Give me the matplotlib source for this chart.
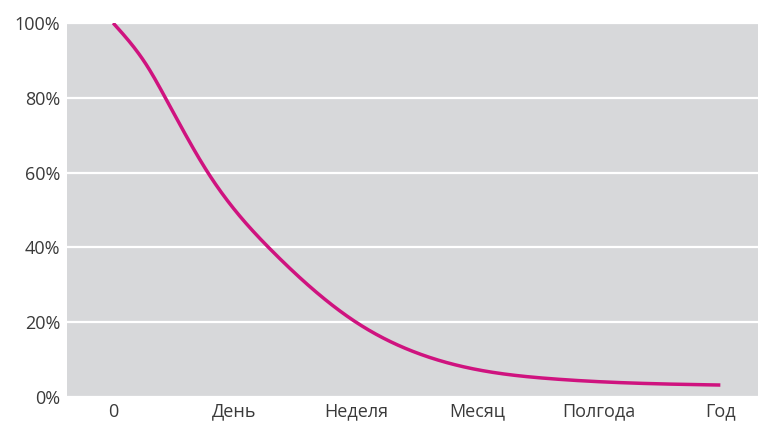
import numpy as np
import matplotlib
matplotlib.use("Agg")
import matplotlib.pyplot as plt
from matplotlib.ticker import FuncFormatter

# Retention curve: share remaining (%) over time
time_pos = [0.0, 0.28, 0.43, 0.78, 1.31, 2.0, 2.5, 3.05, 3.6, 4.3, 5.0]
share_pct = [100, 88.5, 80, 60, 39, 20, 11.8, 7.0, 4.9, 3.7, 3.2]

x_ticks = [0, 1, 2, 3, 4, 5]
x_labels = ["0", "День", "Неделя", "Месяц", "Полгода", "Год"]
y_ticks = [0, 20, 40, 60, 80, 100]


def natural_spline(x, y, n=500):
    """Natural cubic spline through the given points, sampled for drawing."""
    x = np.asarray(x, float)
    y = np.asarray(y, float)
    k = len(x)
    h = np.diff(x)
    A = np.zeros((k, k))
    r = np.zeros(k)
    A[0, 0] = A[-1, -1] = 1.0
    for i in range(1, k - 1):
        A[i, i - 1] = h[i - 1]
        A[i, i] = 2 * (h[i - 1] + h[i])
        A[i, i + 1] = h[i]
        r[i] = 6 * ((y[i + 1] - y[i]) / h[i] - (y[i] - y[i - 1]) / h[i - 1])
    M = np.linalg.solve(A, r)
    xs = np.linspace(x[0], x[-1], n)
    idx = np.clip(np.searchsorted(x, xs) - 1, 0, k - 2)
    hi = h[idx]
    a = (x[idx + 1] - xs) / hi
    b = (xs - x[idx]) / hi
    ys = (a * y[idx] + b * y[idx + 1]
          + ((a**3 - a) * M[idx] + (b**3 - b) * M[idx + 1]) * hi**2 / 6)
    return xs, ys


plt.rcParams["font.family"] = ["Open Sans", "DejaVu Sans"]

fig = plt.figure(figsize=(7.6, 4.23), dpi=100)
ax = fig.add_axes([67 / 760, 1 - 397 / 423, (758 - 67) / 760, (397 - 23) / 423])
ax.set_facecolor("#d7d8da")

cx, cy = natural_spline(time_pos, share_pct)
ax.plot(cx, cy, color="#cf137f", lw=2.5,
        solid_capstyle="butt", solid_joinstyle="round", zorder=3)

ax.set_xlim(-0.38, 5.31)
ax.set_ylim(0, 100)
ax.set_xticks(x_ticks)
ax.set_xticklabels(x_labels)
ax.set_yticks(y_ticks)
ax.yaxis.set_major_formatter(FuncFormatter(lambda v, _: f"{int(v)}%"))

ax.grid(axis="y", color="white", lw=1.6)
ax.set_axisbelow(True)
for s in ax.spines.values():
    s.set_visible(False)
ax.tick_params(length=0, labelsize=13, colors="#3a3a3a")
ax.tick_params(axis="x", pad=4)
ax.tick_params(axis="y", pad=5)

fig.savefig("out.png", dpi=100, facecolor="white")
